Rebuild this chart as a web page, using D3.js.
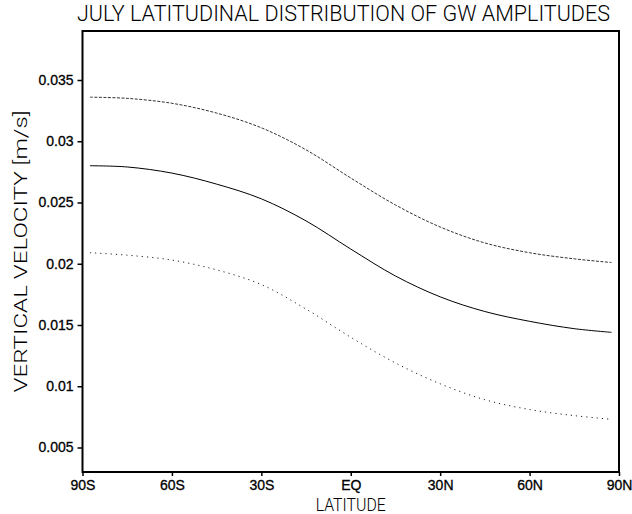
<!DOCTYPE html>
<html>
<head>
<meta charset="utf-8">
<script src="https://cdn.jsdelivr.net/npm/d3@7"></script>
<style>
  body { margin: 0; background: #fff; }
  svg { display: block; }
</style>
</head>
<body>
<svg class="main" width="632" height="514"></svg>
<script>
var lats   = [-87.5, -75, -60, -45, -30, -15, 0, 15, 30, 45, 60, 75, 87.5];
var upper  = [0.0336, 0.0335, 0.0331, 0.0323, 0.0311, 0.0293, 0.0270, 0.0248, 0.0230, 0.0217, 0.0209, 0.0204, 0.0201];
var middle = [0.0280, 0.0279, 0.0274, 0.0265, 0.0253, 0.0235, 0.0212, 0.0190, 0.0173, 0.0161, 0.0153, 0.0147, 0.0144];
var lower  = [0.0209, 0.0207, 0.0203, 0.0195, 0.0183, 0.0163, 0.0140, 0.0119, 0.0102, 0.0089, 0.0081, 0.0076, 0.0073];

var xTicks = [-90, -60, -30, 0, 30, 60, 90],
    xTickLabels = ["90S", "60S", "30S", "EQ", "30N", "60N", "90N"],
    yTicks = [0.005, 0.01, 0.015, 0.02, 0.025, 0.03, 0.035];

var svg = d3.select(".main");

var pLeft = 82.5, pRight = 619, pTop = 31, pBottom = 472;

var x = d3.scaleLinear().domain([-90, 90]).range([pLeft, pRight]),
    y = d3.scaleLinear().domain([0.003, 0.039]).range([pBottom, pTop]);

var labelFont = "'Liberation Sans', Arial, sans-serif",
    thinFont = "Roboto, 'DejaVu Sans Condensed', sans-serif";

// axes
var yAxis = d3.axisLeft(y).tickValues(yTicks).tickSize(5).tickPadding(4)
    .tickFormat(function(d) { return String(+d.toFixed(3)); });
var xAxis = d3.axisBottom(x).tickValues(xTicks).tickSize(4).tickPadding(4)
    .tickFormat(function(d, i) { return xTickLabels[i]; });

var gy = svg.append("g").attr("transform", "translate(" + pLeft + ",0)").call(yAxis);
var gx = svg.append("g").attr("transform", "translate(0," + pBottom + ")").call(xAxis);

[gx, gy].forEach(function(g) {
    g.select(".domain").remove();
    g.selectAll(".tick line").attr("stroke", "#000").attr("stroke-width", 1.5);
    g.selectAll(".tick text")
        .attr("fill", "#000")
        .attr("stroke", "#000").attr("stroke-width", 0.3)
        .style("font-family", labelFont)
        .style("font-size", "14px");
});

// frame
svg.append("rect")
    .attr("x", pLeft).attr("y", pTop)
    .attr("width", pRight - pLeft).attr("height", pBottom - pTop)
    .attr("fill", "none").attr("stroke", "#000").attr("stroke-width", 2);

// lines
var line = d3.line()
    .x(function(d) { return x(d[0]); })
    .y(function(d) { return y(d[1]); })
    .curve(d3.curveCatmullRom);

var series = [
    { values: upper,  dash: "3,1.5", color: "#333" },
    { values: middle, dash: null,    color: "#000" },
    { values: lower,  dash: "1.2,4", color: "#222" }
];

svg.selectAll("path.series")
    .data(series)
    .enter().append("path")
    .attr("class", "series")
    .attr("fill", "none")
    .attr("stroke", function(d) { return d.color; })
    .attr("stroke-width", 1)
    .attr("stroke-dasharray", function(d) { return d.dash; })
    .attr("d", function(d) { return line(d3.zip(lats, d.values)); });

// titles
svg.append("text")
    .attr("x", 77).attr("y", 21)
    .attr("textLength", 533).attr("lengthAdjust", "spacingAndGlyphs")
    .style("font-family", thinFont).style("font-size", "22px")
    .style("font-weight", 300)
    .text("JULY  LATITUDINAL  DISTRIBUTION  OF  GW  AMPLITUDES");

svg.append("text")
    .attr("transform", "translate(27," + ((pTop + pBottom) / 2) + ") rotate(-90)")
    .attr("text-anchor", "middle")
    .attr("textLength", 282).attr("lengthAdjust", "spacingAndGlyphs")
    .style("font-family", thinFont).style("font-size", "19px")
    .style("font-weight", 300)
    .text("VERTICAL  VELOCITY  [m/s]");

svg.append("text")
    .attr("x", x(0)).attr("y", 511)
    .attr("text-anchor", "middle")
    .attr("textLength", 70).attr("lengthAdjust", "spacingAndGlyphs")
    .style("font-family", thinFont).style("font-size", "18px")
    .style("font-weight", 300)
    .text("LATITUDE");
</script>
</body>
</html>
